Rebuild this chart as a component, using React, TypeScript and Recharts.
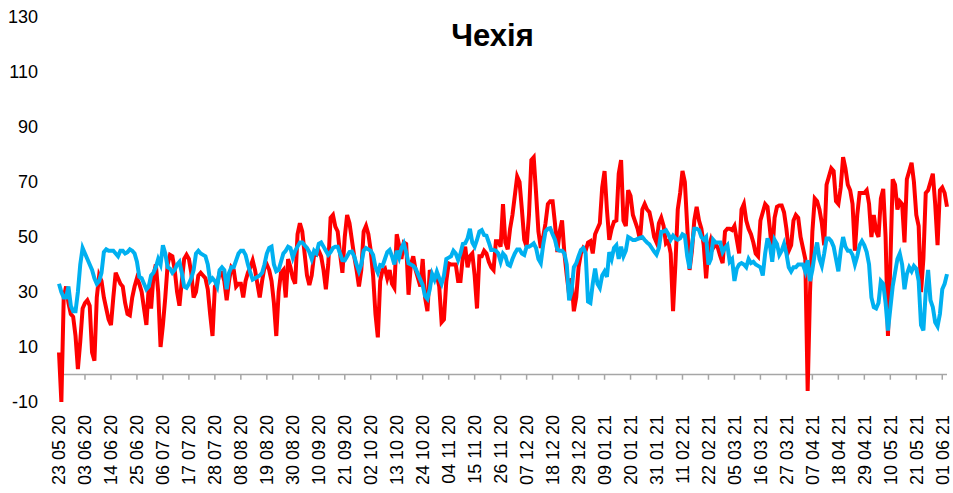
import React from 'react';
import { LineChart, Line, XAxis, YAxis, ReferenceLine } from 'recharts';

// daily values from 23 05 20 to 03 06 21
const redValues = [
  8, -10, 28, 32, 26, 22, 21, 14, 2, 12, 24, 26, 27, 25, 8, 5, 28, 36, 34, 28,
  24, 20, 18, 28, 37, 35, 33, 32, 26, 22, 21.5, 28, 32, 35, 33, 30, 24, 18, 32, 24,
  36, 40, 30, 10, 18, 28, 40, 43.5, 43, 38, 30, 25, 34, 42, 43.5, 42, 37, 28, 30, 36,
  37, 36, 35, 31, 22, 14, 32, 33, 37, 37, 34, 27, 34, 39, 38, 32, 33, 33, 28, 34,
  37, 39, 41.5, 38, 33, 28, 34, 39, 40, 38, 34, 26, 14, 30, 37, 38, 28, 42, 39, 35,
  33, 51, 55, 52, 44, 36, 32.5, 36, 43.5, 43.5, 45, 43, 38, 31, 40, 57, 58, 53.8, 52, 44,
  37, 50, 58, 55, 49, 43, 38, 32, 38, 52, 54, 51, 45, 36, 22, 13.5, 34, 38, 38.6, 35,
  38, 33, 31.5, 51, 47, 42, 48, 47.5, 29, 40, 43, 38, 35, 32, 42, 28, 23, 38, 36, 35,
  36, 32, 19, 20, 34, 40.4, 40, 40, 40, 34, 34, 43, 46.5, 39, 43, 44, 36, 24, 43, 43,
  45, 44, 41, 39, 38, 48.5, 48.5, 46.5, 62, 48, 45.5, 53, 58, 65, 72, 70, 60, 49, 46.5, 58,
  78, 79, 66, 52, 46, 50, 55, 62, 63, 63, 55, 44.5, 52, 56, 44, 36, 29, 35, 23, 28,
  39, 44, 46, 45, 48, 48.5, 44, 51, 53, 55, 68, 74, 60, 49, 53, 55.6, 56, 73, 78, 56,
  54, 67, 65, 58, 55.5, 53, 49, 60, 62, 60, 59, 55, 50, 48, 55, 57, 54, 47.7, 48.5, 44,
  23, 40, 60, 66, 74, 70, 54, 38, 45, 56, 61, 56, 53, 47, 35, 46, 49, 46, 47.5, 46,
  43, 40.5, 52, 53, 53, 52.5, 54, 49, 44, 60, 62, 56, 53, 51, 48, 44, 43, 56, 59, 62,
  61, 53, 44, 57, 61, 61.5, 61.5, 59, 53, 45, 47, 56, 58, 57, 50, 46, 42, -6, 30, 52,
  64, 63, 60, 55, 47, 69, 72, 75, 74, 63, 62, 68, 79, 75, 69, 67, 62, 45, 58, 66,
  66, 66, 67, 62, 50, 58, 52, 50, 64, 67.5, 50, 14, 40, 71, 69, 60, 63, 62, 48, 71,
  74, 77, 70, 58, 54, 30, 42, 66, 67, 70, 73, 62, 47, 67, 68, 66, 61,
];

const blueValues = [
  33, 30, 28, 28, 32, 25, 23, 23, 30, 40, 46, 44, 42, 40, 38, 35, 33, 34, 37, 44.5,
  45.5, 45, 45, 45, 44, 43, 45, 45, 44, 44.5, 45.5, 45, 44, 41, 35.5, 35, 33, 31, 32, 36,
  37, 39, 42, 40, 47, 44, 39, 38.5, 37, 38, 40, 41, 37, 32, 31.5, 33, 35, 38, 44, 45,
  44, 43.5, 43, 40, 34, 35, 34, 32, 38, 39, 38, 31, 37, 39, 39, 41.5, 44, 45, 45, 43.5,
  40, 37, 34.5, 35, 35.5, 36, 37, 40, 44, 46, 46.5, 40, 37.5, 38, 41, 44, 45, 46.5, 46, 42.5,
  45, 46.5, 48, 48, 47, 46, 44.5, 42, 45, 44, 47.5, 48, 46.5, 45, 43.5, 44.5, 46, 46.5, 46.5, 44,
  41.6, 41.5, 43, 44.5, 44.7, 43, 40, 37.5, 40, 45, 46, 45.5, 45, 43.5, 39, 37, 39.8, 39.5, 42, 44.5,
  45.3, 43, 40, 45, 42.5, 46, 47.7, 44.5, 40.4, 40, 39.5, 38.5, 36.5, 34.5, 32.5, 28.5, 27.5, 31, 36.5, 34.5,
  37.4, 35, 33, 36, 42, 42.5, 43, 45, 44, 41.6, 44, 47.5, 47.7, 49.5, 53, 48, 46.5, 49, 52, 52.5,
  50.7, 50.5, 48, 45.3, 45.3, 45, 44, 41, 44, 43, 40, 39.5, 42, 44, 45.5, 45.5, 44, 43.5, 46.5, 46.5,
  47, 47.7, 46, 42, 40.5, 47, 52, 53, 53.2, 51, 49, 45.5, 45, 45, 44, 40, 27, 30, 39, 40.4,
  43, 45.3, 46, 44, 26.5, 26, 33, 38.5, 33, 31.5, 36, 37.5, 35.5, 44.5, 42, 46, 47, 42, 46.5, 43,
  45, 50, 49.5, 48.9, 48.9, 49.3, 49.7, 50, 48.9, 48, 47.3, 46, 44.7, 43.6, 46, 51.9, 52, 52.5, 51, 49,
  50.5, 49.5, 49, 49.5, 51, 50.5, 43, 38.5, 47, 53, 53, 52.5, 50, 49, 50, 40, 42, 49, 48, 48,
  48, 44.5, 46, 47, 41, 42, 34, 38.5, 40, 40.5, 40, 39, 42, 40.5, 41, 40, 39.5, 39, 36, 44,
  49.5, 47, 41, 49, 47.5, 43.5, 45, 47.5, 44, 39, 37.5, 39, 39, 40, 40, 40, 37.5, 41.6, 34, 38,
  44, 48, 42, 39.5, 44, 49.5, 49.5, 48.5, 46.5, 42, 37.5, 45, 50, 46.5, 45, 45, 43.5, 40, 43, 47,
  48.5, 47, 44.5, 40, 28, 24.5, 24, 26, 34, 33, 26, 16, 24, 32, 37, 42, 44, 40, 31, 36.5,
  39, 37.5, 39.5, 38.5, 34, 18, 16, 30, 38, 27, 24.5, 19, 17.5, 22, 31, 33, 36.5,
];

const yTicks = [-10, 10, 30, 50, 70, 90, 110, 130];

const startDate = new Date(2020, 4, 23);
const pad = (n: number) => (n < 10 ? '0' + n : '' + n);
const dateLabels = redValues.map((_, i) => {
  const d = new Date(startDate.getFullYear(), startDate.getMonth(), startDate.getDate() + i);
  return `${pad(d.getDate())} ${pad(d.getMonth() + 1)} ${pad(d.getFullYear() % 100)}`;
});
const tickDates = dateLabels.filter((_, i) => i % 11 === 0);

const data = dateLabels.map((date, i) => ({ date, red: redValues[i], blue: blueValues[i] }));

const DateTick = (props: any) => {
  const { x, y, payload } = props;
  return (
    <text
      x={x}
      y={y}
      transform={`rotate(-90, ${x}, ${y})`}
      textAnchor="end"
      dy="0.36em"
      fontSize={18}
      fontFamily="'Liberation Sans', Arial, sans-serif"
      fill="#000"
    >
      {payload.value}
    </text>
  );
};

const App: React.FC = () => {
  return (
    <div style={{ position: 'absolute', left: 0, top: 0, width: 953, height: 493, background: '#fff' }}>
      <div
        style={{
          position: 'absolute',
          left: 0,
          width: 985,
          top: 17,
          textAlign: 'center',
          fontFamily: "'Liberation Sans', Arial, sans-serif",
          fontWeight: 'bold',
          fontSize: 31,
          lineHeight: '37px',
          color: '#000',
        }}
      >
        Чехія
      </div>
      <LineChart width={953} height={493} data={data} margin={{ top: 17, right: 6, left: 0, bottom: 0 }}>
        <XAxis
          dataKey="date"
          interval={10}
          axisLine={false}
          tickLine={false}
          tickSize={0}
          tickMargin={13}
          height={91}
          tick={<DateTick />}
        />
        <YAxis
          domain={[-10, 130]}
          ticks={yTicks}
          axisLine={false}
          tickLine={false}
          tickSize={0}
          tickMargin={21}
          width={59}
          tick={{ fontSize: 18, fill: '#000', fontFamily: "'Liberation Sans', Arial, sans-serif" }}
        />
        <ReferenceLine y={0} stroke="#a6a6a6" strokeWidth={1.5} />
        {tickDates.map((d) => (
          <ReferenceLine
            key={d}
            segment={[{ x: d, y: 0 }, { x: d, y: -1.9 }]}
            stroke="#a6a6a6"
            strokeWidth={1.5}
          />
        ))}
        <Line
          type="linear"
          dataKey="red"
          stroke="#ff0000"
          strokeWidth={4}
          dot={false}
          isAnimationActive={false}
        />
        <Line
          type="linear"
          dataKey="blue"
          stroke="#00b0f0"
          strokeWidth={4}
          dot={false}
          isAnimationActive={false}
        />
      </LineChart>
    </div>
  );
};

export default App;
